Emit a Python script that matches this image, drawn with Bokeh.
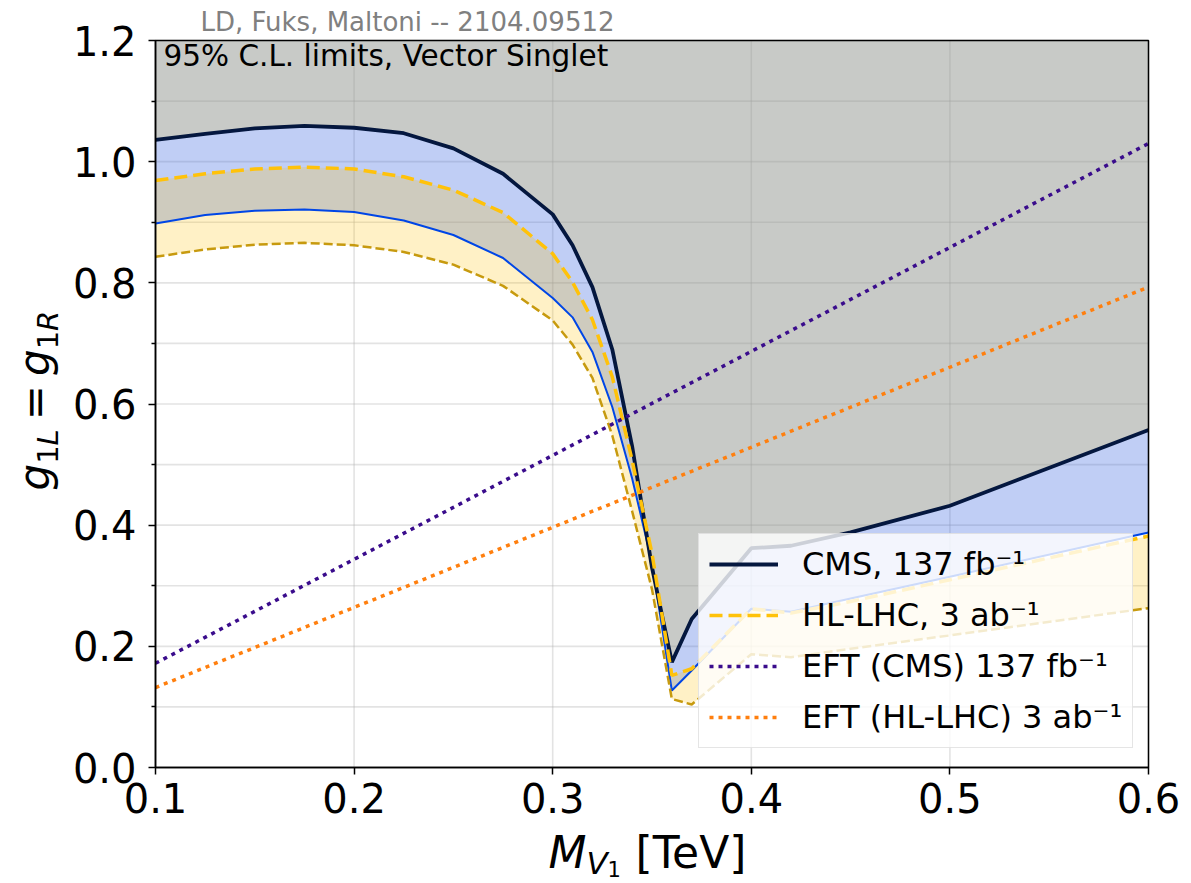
import math
from bokeh.plotting import figure
from bokeh.models import (Range1d, FixedTicker, PrintfTickFormatter, Label,
                          Legend, LegendItem, LinearAxis)
from bokeh.embed import file_html
from bokeh.resources import INLINE

# ---------------- data ----------------
mass = [0.10, 0.125, 0.15, 0.175, 0.20, 0.225, 0.25, 0.275, 0.30, 0.31, 0.32,
        0.33, 0.34, 0.35, 0.36, 0.37, 0.40, 0.42, 0.45, 0.50, 0.60]
cms_limit = [1.036, 1.046, 1.055, 1.059, 1.056, 1.047, 1.022, 0.980, 0.913, 0.862, 0.793,
             0.690, 0.530, 0.330, 0.174, 0.245, 0.362, 0.366, 0.388, 0.432, 0.557]
cms_lower = [0.898, 0.912, 0.919, 0.921, 0.917, 0.903, 0.879, 0.841, 0.775, 0.743, 0.686,
             0.595, 0.477, 0.338, 0.127, 0.160, 0.262, 0.257, 0.279, 0.315, 0.388]
hl_limit = [0.969, 0.980, 0.988, 0.991, 0.988, 0.975, 0.953, 0.916, 0.848, 0.801, 0.739,
            0.645, 0.507, 0.353, 0.152, 0.163, 0.262, 0.255, 0.274, 0.310, 0.382]
hl_lower = [0.843, 0.855, 0.863, 0.866, 0.862, 0.851, 0.830, 0.795, 0.738, 0.698, 0.643,
            0.548, 0.423, 0.294, 0.113, 0.104, 0.187, 0.182, 0.196, 0.218, 0.263]

eft_mass = [0.10, 0.60]
eft_cms = [0.172, 1.030]
eft_hl = [0.132, 0.793]

x_ticks = [0.1, 0.2, 0.3, 0.4, 0.5, 0.6]
y_ticks = [0.0, 0.2, 0.4, 0.6, 0.8, 1.0, 1.2]
y_minor = [0.1, 0.3, 0.5, 0.7, 0.9, 1.1]

legend_labels = ["CMS, 137 fb\u207b\u00b9", "HL-LHC, 3 ab\u207b\u00b9",
                 "EFT (CMS) 137 fb\u207b\u00b9", "EFT (HL-LHC) 3 ab\u207b\u00b9"]
credit = "LD, Fuks, Maltoni -- 2104.09512"
inset = "95% C.L. limits, Vector Singlet"

# ---------------- layout (pixels) ----------------
W, H = 1191, 883
L, R, T, B = 155, 43, 40, 116          # plot-area margins in the window
X0, X1 = x_ticks[0], x_ticks[-1]
Y0, Y1 = y_ticks[0], y_ticks[-1]
sx = (W - L - R) / (X1 - X0)           # px per TeV
sy = (H - T - B) / (Y1 - Y0)           # px per unit
BASE_FIX = 0.3                         # baseline correction (fraction of font size)


def dx(px):
    return X0 + (px - L) / sx


def dy(py):
    return Y0 + (H - B - py) / sy


FONT = "DejaVu Sans"

# the frame spans the whole canvas; the plot area is drawn with fixed-location axes
p = figure(width=W, height=H,
           x_range=Range1d(dx(0), dx(W)), y_range=Range1d(dy(H), dy(0)),
           output_backend="svg", toolbar_location=None,
           x_axis_location=None, y_axis_location=None, min_border=0)
p.min_border_left = p.min_border_right = p.min_border_top = p.min_border_bottom = 0
p.background_fill_color = "white"
p.border_fill_color = "white"
p.outline_line_color = None
for g in p.grid:
    g.visible = False

# grid lines (under everything)
grid_kw = dict(line_color="#b0b0b0", line_alpha=0.35, line_width=1.6)
p.segment(x0=x_ticks, x1=x_ticks, y0=[Y0] * len(x_ticks), y1=[Y1] * len(x_ticks), **grid_kw)
all_y = sorted(y_ticks + y_minor)
p.segment(x0=[X0] * len(all_y), x1=[X1] * len(all_y), y0=all_y, y1=all_y, **grid_kw)

# fills
top_edge = [Y1] * len(mass)
p.varea(x=mass, y1=cms_limit, y2=top_edge, fill_color=(146, 150, 143), fill_alpha=0.5)
p.varea(x=mass, y1=cms_lower, y2=cms_limit, fill_color=(65, 105, 225), fill_alpha=0.33)
p.varea(x=mass, y1=hl_lower, y2=hl_limit, fill_color=(255, 193, 7), fill_alpha=0.23)

# lines
p.line(mass, cms_lower, line_color="#0046e6", line_width=2)
r_cms = p.line(mass, cms_limit, line_color="#04173f", line_width=3.8)
p.line(mass, hl_lower, line_color="#c79a0e", line_width=2.5, line_dash="9 4")
r_hl = p.line(mass, hl_limit, line_color="#ffc20a", line_width=3.5, line_dash="13 6")
r_eft1 = p.line(eft_mass, eft_cms, line_color="#3a0c8c", line_width=3.5, line_dash="4 5")
r_eft2 = p.line(eft_mass, eft_hl, line_color="#ff7f0e", line_width=3.5, line_dash="4 5")

# plot-area box
p.quad(left=[X0], right=[X1], bottom=[Y0], top=[Y1], fill_color=None,
       line_color="black", line_width=1.5)

# axes at fixed locations
xaxis = LinearAxis(fixed_location=Y0, bounds=(X0, X1),
                   ticker=FixedTicker(ticks=x_ticks),
                   formatter=PrintfTickFormatter(format="%.1f"))
yaxis = LinearAxis(fixed_location=X0, bounds=(Y0, Y1),
                   ticker=FixedTicker(ticks=y_ticks, minor_ticks=y_minor),
                   formatter=PrintfTickFormatter(format="%.1f"))
for ax in (xaxis, yaxis):
    ax.major_label_text_font = FONT
    ax.major_label_text_font_size = "40px"
    ax.major_label_text_color = "black"
    ax.axis_line_color = "black"
    ax.axis_line_width = 1.5
    ax.major_tick_line_color = "black"
    ax.major_tick_line_width = 1.5
    ax.major_tick_out = 7
    ax.major_tick_in = 0
    ax.minor_tick_line_width = 1.5
    ax.minor_tick_in = 0
xaxis.minor_tick_out = 0
xaxis.minor_tick_line_color = None
yaxis.minor_tick_out = 4
yaxis.minor_tick_line_color = "black"
xaxis.major_label_standoff = 8
yaxis.major_label_standoff = 12
p.add_layout(xaxis, "below")
p.add_layout(yaxis, "left")

# legend
legend = Legend(items=[LegendItem(label=legend_labels[0], renderers=[r_cms]),
                       LegendItem(label=legend_labels[1], renderers=[r_hl]),
                       LegendItem(label=legend_labels[2], renderers=[r_eft1]),
                       LegendItem(label=legend_labels[3], renderers=[r_eft2])],
                location=(698, H - 748))
legend.label_text_font = FONT
legend.label_text_font_size = "32px"
legend.label_text_color = "black"
legend.glyph_width = 69
legend.glyph_height = 40
legend.label_height = 40
legend.label_standoff = 24
legend.spacing = 11
legend.padding = 10
legend.margin = 0
legend.background_fill_color = "white"
legend.background_fill_alpha = 0.8
legend.border_line_color = "#cccccc"
legend.border_line_width = 1.5
p.add_layout(legend)


def text_at(txt, px, py, size, color="black", style="normal", rotated=False):
    if rotated:
        px = px - BASE_FIX * size
    else:
        py = py - BASE_FIX * size
    p.add_layout(Label(x=dx(px), y=dy(py), text=txt, text_font=FONT, text_font_style=style,
                       text_font_size=f"{size}px", text_color=color,
                       angle=(math.pi / 2 if rotated else 0.0),
                       text_baseline="alphabetic", text_align="left"))


# texts
text_at(credit, 200, 29, 26, color="#808080")
text_at(inset, 163, 64, 29.5)

# x-axis label  M_{V_1} [TeV]
xparts = [("M", "italic", 44, 548, 865), ("V", "italic", 31, 586, 872),
          ("1", "normal", 21, 607, 875), ("[TeV]", "normal", 44, 635, 865)]
for txt, sty, sz, px, py in xparts:
    text_at(txt, px, py, sz, style=sty)

# y-axis label  g_{1L} = g_{1R}   (rotated, reading upwards)
yparts = [("g", "italic", 42, 47, 490), ("1", "normal", 29, 56, 463.3),
          ("L", "italic", 29, 56, 444.9), ("=", "normal", 42, 47, 419.7),
          ("g", "italic", 42, 47, 375.5), ("1", "normal", 29, 56, 348.8),
          ("R", "italic", 29, 56, 330.4)]
for txt, sty, sz, px, py in yparts:
    text_at(txt, px, py, sz, style=sty, rotated=True)

open("out.html", "w").write(file_html(p, INLINE))
